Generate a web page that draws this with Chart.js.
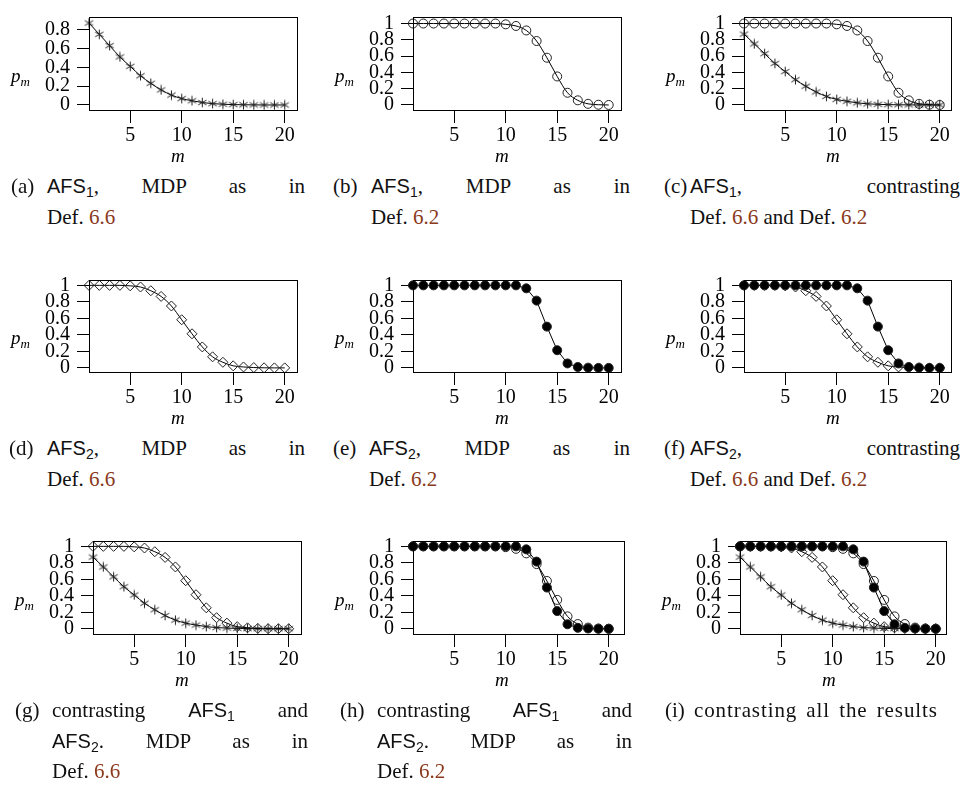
<!DOCTYPE html>
<html>
<head>
<meta charset="utf-8">
<script src="https://cdn.jsdelivr.net/npm/chart.js@4.4.1/dist/chart.umd.min.js"></script>
<style>
  body { margin: 0; background: #fff; width: 969px; height: 787px; position: relative; overflow: hidden; }
  canvas { position: absolute; }
  .lbl { position: absolute; font-family: "Liberation Serif", serif; font-style: italic; font-size: 19px; line-height: 1; white-space: nowrap; color: #000; }
  .lbl sub { font-size: 13px; vertical-align: -4px; line-height: 0; }
  .cap { position: absolute; font-family: "Liberation Serif", serif; font-size: 21px; line-height: 30.5px; color: #111; }
  .cap sub { line-height: 0; }
  .cap .tag { position: absolute; left: 0; top: 0; white-space: nowrap; }
  .cap .body { position: absolute; top: 0; }
  .cap .line { white-space: nowrap; height: 30.5px; }
  .cap .just { white-space: normal; text-align: justify; text-align-last: justify; }
  .cap .wide { letter-spacing: 0.9px; word-spacing: 3px; }
  .afs { font-family: "Liberation Sans", sans-serif; font-size: 20px; }
  .afs sub { font-size: 14px; vertical-align: -4px; }
  .ref { color: #8a3a1c; }
</style>
</head>
<body>
<script>
// m = 1..20 for every series
const mValues = [1, 2, 3, 4, 5, 6, 7, 8, 9, 10, 11, 12, 13, 14, 15, 16, 17, 18, 19, 20];
const xTicks = [5, 10, 15, 20];
const yTicksFull = [0, 0.2, 0.4, 0.6, 0.8, 1];
const yTicksShort = [0, 0.2, 0.4, 0.6, 0.8];

// AFS1, MDP as in Def. 6.6 (asterisk)
const afs1Def66 = [0.87, 0.75, 0.63, 0.51, 0.41, 0.31, 0.23, 0.16, 0.105, 0.068, 0.045, 0.026, 0.014, 0.008, 0.004, 0.002, 0.001, 0, 0, 0];
// AFS1, MDP as in Def. 6.2 (open circle)
const afs1Def62 = [1, 1, 1, 1, 1, 1, 1, 1, 1, 0.99, 0.97, 0.915, 0.785, 0.58, 0.35, 0.15, 0.057, 0.014, 0.003, 0];
// AFS2, MDP as in Def. 6.6 (diamond)
const afs2Def66 = [1, 1, 1, 1, 0.994, 0.98, 0.935, 0.866, 0.75, 0.583, 0.413, 0.254, 0.134, 0.068, 0.025, 0.011, 0.004, 0.001, 0, 0];
// AFS2, MDP as in Def. 6.2 (filled circle)
const afs2Def62 = [1, 1, 1, 1, 1, 1, 1, 1, 1, 1, 1, 0.964, 0.815, 0.5, 0.214, 0.054, 0.011, 0.003, 0, 0];

const tickFont = { family: '"Liberation Serif", serif', size: 20 };

function asteriskMark() {
    const c = document.createElement('canvas');
    c.width = 11;
    c.height = 11;
    const g = c.getContext('2d');
    g.strokeStyle = '#222';
    g.lineWidth = 1;
    g.translate(5.5, 5.5);
    for (let k = 0; k < 3; k++) {
        const a = Math.PI / 2 + k * Math.PI / 3;
        g.beginPath();
        g.moveTo(Math.cos(a) * 4.8, Math.sin(a) * 4.8);
        g.lineTo(-Math.cos(a) * 4.8, -Math.sin(a) * 4.8);
        g.stroke();
    }
    return c;
}

const marks = {
    star: { values: afs1Def66, pointStyle: asteriskMark(), pointRadius: 5, background: 'transparent', smooth: true },
    circle: { values: afs1Def62, pointStyle: 'circle', pointRadius: 4.5, background: 'transparent', smooth: true },
    diamond: { values: afs2Def66, pointStyle: 'rectRot', pointRadius: 5, background: 'transparent', smooth: true },
    filled: { values: afs2Def62, pointStyle: 'circle', pointRadius: 4.5, background: '#000', smooth: false },
};

// plot boxes: [left, top, right, bottom]; series listed top-most first
const panels = [
    { box: [89, 6, 298, 111], series: ['star'], yTicks: yTicksShort, yMin: -0.064, yMax: 0.934 },
    { box: [413, 6, 622, 111], series: ['circle'], yTicks: yTicksFull, yMin: -0.074, yMax: 1.08 },
    { box: [744, 6, 952, 111], series: ['circle', 'star'], yTicks: yTicksFull, yMin: -0.074, yMax: 1.08 },
    { box: [89, 269, 298, 373], series: ['diamond'], yTicks: yTicksFull, yMin: -0.062, yMax: 1.065 },
    { box: [413, 269, 622, 373], series: ['filled'], yTicks: yTicksFull, yMin: -0.062, yMax: 1.065 },
    { box: [744, 269, 952, 373], series: ['filled', 'diamond'], yTicks: yTicksFull, yMin: -0.062, yMax: 1.065 },
    { box: [93, 530, 302, 635], series: ['diamond', 'star'], yTicks: yTicksFull, yMin: -0.076, yMax: 1.065 },
    { box: [413, 530, 625, 635], series: ['filled', 'circle'], yTicks: yTicksFull, yMin: -0.076, yMax: 1.065 },
    { box: [740, 530, 947, 635], series: ['filled', 'circle', 'diamond', 'star'], yTicks: yTicksFull, yMin: -0.076, yMax: 1.065 },
];

// caption lines; every line but the last is spread to the full width
const captions = [
    { tag: '(a)', tagX: 11, x: 47, w: 258, row: 0, lines: ['<span class="afs">AFS<sub>1</sub></span>, MDP as in', 'Def. <span class="ref">6.6</span>'] },
    { tag: '(b)', tagX: 333, x: 371, w: 259, row: 0, lines: ['<span class="afs">AFS<sub>1</sub></span>, MDP as in', 'Def. <span class="ref">6.2</span>'] },
    { tag: '(c)', tagX: 664, x: 690, w: 270, row: 0, lines: ['<span class="afs">AFS<sub>1</sub></span>, contrasting', 'Def. <span class="ref">6.6</span> and Def. <span class="ref">6.2</span>'] },
    { tag: '(d)', tagX: 9, x: 47, w: 258, row: 1, lines: ['<span class="afs">AFS<sub>2</sub></span>, MDP as in', 'Def. <span class="ref">6.6</span>'] },
    { tag: '(e)', tagX: 333, x: 369, w: 261, row: 1, lines: ['<span class="afs">AFS<sub>2</sub></span>, MDP as in', 'Def. <span class="ref">6.2</span>'] },
    { tag: '(f)', tagX: 664, x: 690, w: 270, row: 1, lines: ['<span class="afs">AFS<sub>2</sub></span>, contrasting', 'Def. <span class="ref">6.6</span> and Def. <span class="ref">6.2</span>'] },
    { tag: '(g)', tagX: 15, x: 52, w: 256, row: 2, lines: ['contrasting <span class="afs">AFS<sub>1</sub></span> and', '<span class="afs">AFS<sub>2</sub></span>. MDP as in', 'Def. <span class="ref">6.6</span>'] },
    { tag: '(h)', tagX: 340, x: 377, w: 255, row: 2, lines: ['contrasting <span class="afs">AFS<sub>1</sub></span> and', '<span class="afs">AFS<sub>2</sub></span>. MDP as in', 'Def. <span class="ref">6.2</span>'] },
    { tag: '(i)', tagX: 665, x: 694, w: 266, row: 2, lines: ['<span class="wide">contrasting all the results</span>'] },
];
const captionTops = [171, 433, 695];

const frame = {
    id: 'frame',
    afterDraw(chart) {
        const a = chart.chartArea;
        const ctx = chart.ctx;
        ctx.save();
        ctx.strokeStyle = '#000';
        ctx.lineWidth = 1;
        ctx.strokeRect(Math.round(a.left) + 0.5, Math.round(a.top) + 0.5, Math.round(a.right - a.left) - 1, Math.round(a.bottom - a.top) - 1);
        ctx.restore();
    }
};

function addLabel(html, left, top) {
    const el = document.createElement('div');
    el.className = 'lbl';
    el.innerHTML = html;
    el.style.left = left + 'px';
    el.style.top = top + 'px';
    document.body.appendChild(el);
}

const yW = 90, xH = 40, padTop = 8, padRight = 12;

panels.forEach((p) => {
    const [l, t, r, b] = p.box;
    const canvas = document.createElement('canvas');
    const W = yW + (r - l) + padRight;
    const H = padTop + (b - t) + xH;
    canvas.width = W;
    canvas.height = H;
    canvas.style.left = (l - yW) + 'px';
    canvas.style.top = (t - padTop) + 'px';
    document.body.appendChild(canvas);

    const xMax = 1 + (r - l) / 10.3;

    new Chart(canvas.getContext('2d'), {
        type: 'line',
        data: {
            datasets: p.series.map((key) => {
                const s = marks[key];
                return {
                    data: mValues.map((m, i) => ({ x: m, y: s.values[i] })),
                    borderColor: '#000',
                    borderWidth: 1,
                    pointStyle: s.pointStyle,
                    pointRadius: s.pointRadius,
                    pointBorderColor: '#222',
                    pointBorderWidth: 1,
                    pointBackgroundColor: s.background,
                    cubicInterpolationMode: s.smooth ? 'monotone' : 'default',
                    tension: 0,
                    clip: false,
                };
            })
        },
        options: {
            responsive: false,
            devicePixelRatio: 1,
            animation: false,
            layout: { padding: { top: padTop, right: padRight, left: 0, bottom: 0 } },
            plugins: { legend: { display: false }, tooltip: { enabled: false } },
            scales: {
                x: {
                    type: 'linear',
                    min: 1,
                    max: xMax,
                    afterBuildTicks: (s) => { s.ticks = xTicks.map((v) => ({ value: v })); },
                    afterFit: (s) => { s.height = xH; },
                    grid: { drawOnChartArea: false, drawTicks: true, tickLength: 12, color: '#000', lineWidth: 1 },
                    border: { display: false },
                    ticks: { font: tickFont, color: '#000', padding: 1, maxRotation: 0, autoSkip: false, callback: (v) => String(v) },
                },
                y: {
                    min: p.yMin,
                    max: p.yMax,
                    afterBuildTicks: (s) => { s.ticks = p.yTicks.map((v) => ({ value: v })); },
                    afterFit: (s) => { s.width = yW; },
                    grid: { drawOnChartArea: false, drawTicks: true, tickLength: 12, color: '#000', lineWidth: 1 },
                    border: { display: false },
                    ticks: { font: tickFont, color: '#000', padding: 7, autoSkip: false, callback: (v) => String(v) },
                },
            }
        },
        plugins: [frame]
    });

    addLabel('p<sub>m</sub>', l - 78, b - 45);
    addLabel('m', l + 82, b + 35);
});

captions.forEach((c) => {
    const el = document.createElement('div');
    el.className = 'cap';
    el.style.left = c.tagX + 'px';
    el.style.top = captionTops[c.row] + 'px';
    const tag = document.createElement('div');
    tag.className = 'tag';
    tag.textContent = c.tag;
    el.appendChild(tag);
    const body = document.createElement('div');
    body.className = 'body';
    body.style.left = (c.x - c.tagX) + 'px';
    body.style.width = c.w + 'px';
    c.lines.forEach((txt, i) => {
        const line = document.createElement('div');
        line.className = (i < c.lines.length - 1) ? 'line just' : 'line';
        line.innerHTML = txt;
        body.appendChild(line);
    });
    el.appendChild(body);
    document.body.appendChild(el);
});
</script>
</body>
</html>
